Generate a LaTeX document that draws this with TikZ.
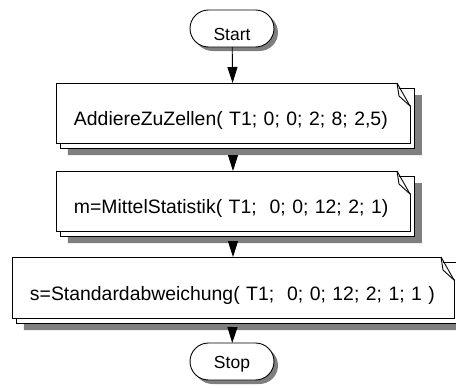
\documentclass[tikz,border=0pt]{standalone}
\usepackage{fontspec}
\setmainfont{Liberation Sans}
\usetikzlibrary{arrows.meta,positioning,shapes.misc}

\begin{document}
\begin{tikzpicture}[line width=.9pt,
  term/.style={draw,fill=white,rounded rectangle,minimum width=84pt,minimum height=37pt,inner sep=0pt,outer sep=0pt,text depth=0pt,font=\fontsize{17.5}{20}\selectfont},
  termshade/.style={rounded rectangle,fill=black,fill opacity=.5,minimum width=84pt,minimum height=37pt,inner sep=0pt,outer sep=0pt},
  page/.style={draw,fill=white,text width=#1,inner xsep=18pt,inner ysep=0pt,minimum height=60pt,align=left,text height=25pt,text depth=0pt,outer sep=0pt,font=\fontsize{19.4}{23}\selectfont,
    preaction={draw,fill=white,transform canvas={shift={(4.5pt,-5pt)}}}}]
\useasboundingbox (-232pt,28.5pt) rectangle (224pt,-359.5pt);
\node[termshade] (startshade) at (4pt,-4pt) {};
\node[term,text height=23pt] (start) at (0,0) {Start};
\node[page=318pt,below=36pt of start,xshift=1pt] (add) {AddiereZuZellen( T1; 0; 0; 2; 8; 2,5)};
\node[page=318pt,below=28pt of add] (mean) {m=MittelStatistik( T1;~ 0; 0; 12; 2; 1)};
\node[page=406pt,below=26pt of mean,minimum height=61pt] (stdev) {s=Standardabweichung( T1;~ 0; 0; 12; 2; 1; 1 )};
\node[termshade,below=25pt of stdev,xshift=3pt,yshift=-4pt] (stopshade) {};
\node[term,text height=14pt,below=25pt of stdev,xshift=-1pt] (stop) {Stop};
% shadow strip and dog-ear corner
\foreach \n in {add,mean,stdev}{
  \fill[black,fill opacity=.5] ([shift={(12pt,-5.45pt)}]\n.south west) -- ([shift={(4.95pt,-5.45pt)}]\n.south east) -- ([shift={(4.95pt,-12pt)}]\n.north east) -- ([shift={(12pt,-12pt)}]\n.north east) -- ([shift={(12pt,-12pt)}]\n.south east) -- ([shift={(12pt,-12pt)}]\n.south west) -- cycle;
  \fill[white] ([xshift=-13pt]\n.north east) -- ([shift={(1pt,1pt)}]\n.north east) -- ([shift={(1pt,-23pt)}]\n.north east) -- cycle;
  \draw ([shift={(-10.5pt,-5pt)}]\n.north east) -- ([shift={(4.5pt,-5pt)}]\n.north east);
  \draw ([xshift=-13pt]\n.north east) -- ([yshift=-23pt]\n.north east);
  \draw ([xshift=-13pt]\n.north east) -- ([shift={(-11pt,-13pt)}]\n.north east) -- ([yshift=-23pt]\n.north east);
}
\foreach \a/\b/\s in {start/add/0pt,add/mean/12pt,mean/stdev/12pt,stdev/stop/12pt}
  \draw[-{Triangle[length=16pt,width=10pt]},shorten <=\s] (\a)--(\b);
\end{tikzpicture}
\end{document}
